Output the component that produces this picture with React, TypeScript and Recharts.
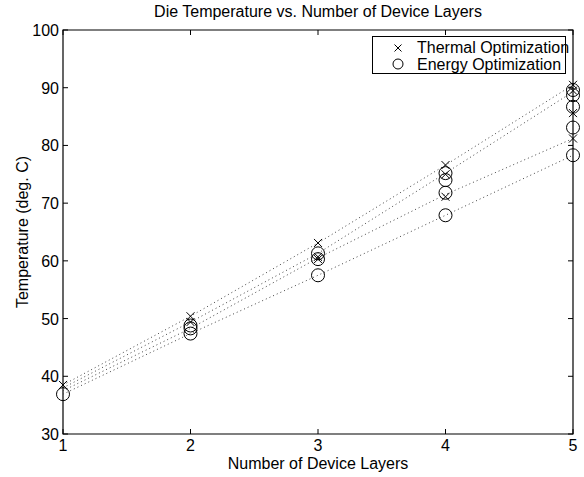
import {
  ComposedChart,
  Line,
  ReferenceArea,
  Scatter,
  XAxis,
  YAxis,
} from "recharts";

// dotted trend lines, one per configuration
const layers = [1, 2, 3, 4, 5];
const trend1 = [38.5, 50.4, 63.1, 76.6, 90.5];
const trend2 = [38.0, 49.4, 61.3, 75.2, 89.3];
const trend3 = [37.5, 48.3, 60.5, 71.5, 81.2];
const trend4 = [36.9, 47.4, 57.5, 67.9, 78.3];

// markers
const thermalLayers = [1, 2, 2, 3, 3, 3, 4, 4, 4, 5, 5, 5, 5];
const thermalTemps = [38.5, 50.4, 49.4, 63.1, 60.7, 60.3, 76.6, 75.0, 71.1, 90.5, 89.5, 85.6, 81.2];
const energyLayers = [1, 2, 2, 2, 3, 3, 3, 4, 4, 4, 4, 5, 5, 5, 5, 5];
const energyTemps = [36.9, 48.8, 48.3, 47.4, 61.3, 60.3, 57.5, 75.2, 74.0, 71.8, 67.9, 89.6, 88.7, 86.7, 83.1, 78.3];

const xTicks = [1, 2, 3, 4, 5];
const yTicks = [30, 40, 50, 60, 70, 80, 90, 100];

const W = 584;
const H = 477;
const LEFT = 63;
const RIGHT = 573;
const TOP = 30;
const BOTTOM = 434;
const TICK = 5;
const FONT = "'Liberation Sans', Arial, Helvetica, sans-serif";

const trends = [trend1, trend2, trend3, trend4].map((t) =>
  layers.map((l, i) => ({ x: l, y: t[i] })),
);
const thermal = thermalLayers.map((l, i) => ({ x: l, y: thermalTemps[i] }));
const energy = energyLayers.map((l, i) => ({ x: l, y: energyTemps[i] }));

function Cross({ cx, cy, s = 4 }: any) {
  return (
    <g stroke="#000" strokeWidth={1}>
      <line x1={cx - s} y1={cy - s} x2={cx + s} y2={cy + s} />
      <line x1={cx - s} y1={cy + s} x2={cx + s} y2={cy - s} />
    </g>
  );
}

function Ring({ cx, cy, r = 6.5 }: any) {
  return <circle cx={cx} cy={cy} r={r} fill="none" stroke="#000" strokeWidth={1} />;
}

function XTick({ x, payload }: any) {
  return (
    <g>
      <line x1={x} y1={BOTTOM} x2={x} y2={BOTTOM - TICK} stroke="#000" />
      <line x1={x} y1={TOP} x2={x} y2={TOP + TICK} stroke="#000" />
      <text x={x} y={BOTTOM + 17} textAnchor="middle" fontSize={16} fontFamily={FONT} fill="#000">
        {payload.value}
      </text>
    </g>
  );
}

function YTick({ y, payload }: any) {
  return (
    <g>
      <line x1={LEFT} y1={y} x2={LEFT + TICK} y2={y} stroke="#000" />
      <line x1={RIGHT - TICK} y1={y} x2={RIGHT} y2={y} stroke="#000" />
      <text x={LEFT - 4} y={y + 6} textAnchor="end" fontSize={16} fontFamily={FONT} fill="#000">
        {payload.value}
      </text>
    </g>
  );
}

const textStyle = {
  position: "absolute" as const,
  fontFamily: FONT,
  fontSize: 16,
  lineHeight: "18px",
  whiteSpace: "nowrap" as const,
  color: "#000",
};

export default function App() {
  return (
    <div style={{ position: "absolute", left: 0, top: 0, width: W, height: H, background: "#fff" }}>
      <ComposedChart
        width={W}
        height={H}
        margin={{ top: TOP, right: W - RIGHT, bottom: H - BOTTOM - 30, left: 0 }}
      >
        <XAxis
          type="number"
          dataKey="x"
          domain={[1, 5]}
          ticks={xTicks}
          height={30}
          axisLine={false}
          tickLine={false}
          tick={<XTick />}
          allowDuplicatedCategory={false}
        />
        <YAxis
          type="number"
          dataKey="y"
          domain={[30, 100]}
          ticks={yTicks}
          width={LEFT}
          axisLine={false}
          tickLine={false}
          tick={<YTick />}
        />
        {trends.map((d, i) => (
          <Line
            key={i}
            data={d}
            dataKey="y"
            type="linear"
            stroke="#444"
            strokeWidth={1}
            strokeDasharray="1 3"
            dot={false}
            activeDot={false}
            isAnimationActive={false}
          />
        ))}
        <Scatter data={thermal} dataKey="y" shape={<Cross />} isAnimationActive={false} />
        <Scatter data={energy} dataKey="y" shape={<Ring />} isAnimationActive={false} />
        <ReferenceArea x1={1} x2={5} y1={30} y2={100} fill="none" stroke="#000" strokeWidth={1.2} />
      </ComposedChart>

      <div style={{ ...textStyle, left: LEFT, width: RIGHT - LEFT, top: 3, textAlign: "center" }}>
        Die Temperature vs. Number of Device Layers
      </div>
      <div style={{ ...textStyle, left: LEFT, width: RIGHT - LEFT, top: 455, textAlign: "center" }}>
        Number of Device Layers
      </div>
      <div
        style={{
          ...textStyle,
          left: 23,
          top: (TOP + BOTTOM) / 2,
          transform: "translate(-50%, -50%) rotate(-90deg)",
        }}
      >
        Temperature (deg. C)
      </div>

      <div
        style={{
          position: "absolute",
          left: 372,
          top: 36,
          width: 194,
          height: 38,
          border: "1px solid #000",
          boxSizing: "border-box",
          background: "#fff",
        }}
      >
        <svg style={{ position: "absolute", left: 0, top: 0 }} width={194} height={38}>
          <Cross cx={25} cy={11} s={3.5} />
          <Ring cx={25} cy={27} r={5} />
        </svg>
        <div style={{ ...textStyle, left: 44, top: 2 }}>Thermal Optimization</div>
        <div style={{ ...textStyle, left: 44, top: 19 }}>Energy Optimization</div>
      </div>
    </div>
  );
}
